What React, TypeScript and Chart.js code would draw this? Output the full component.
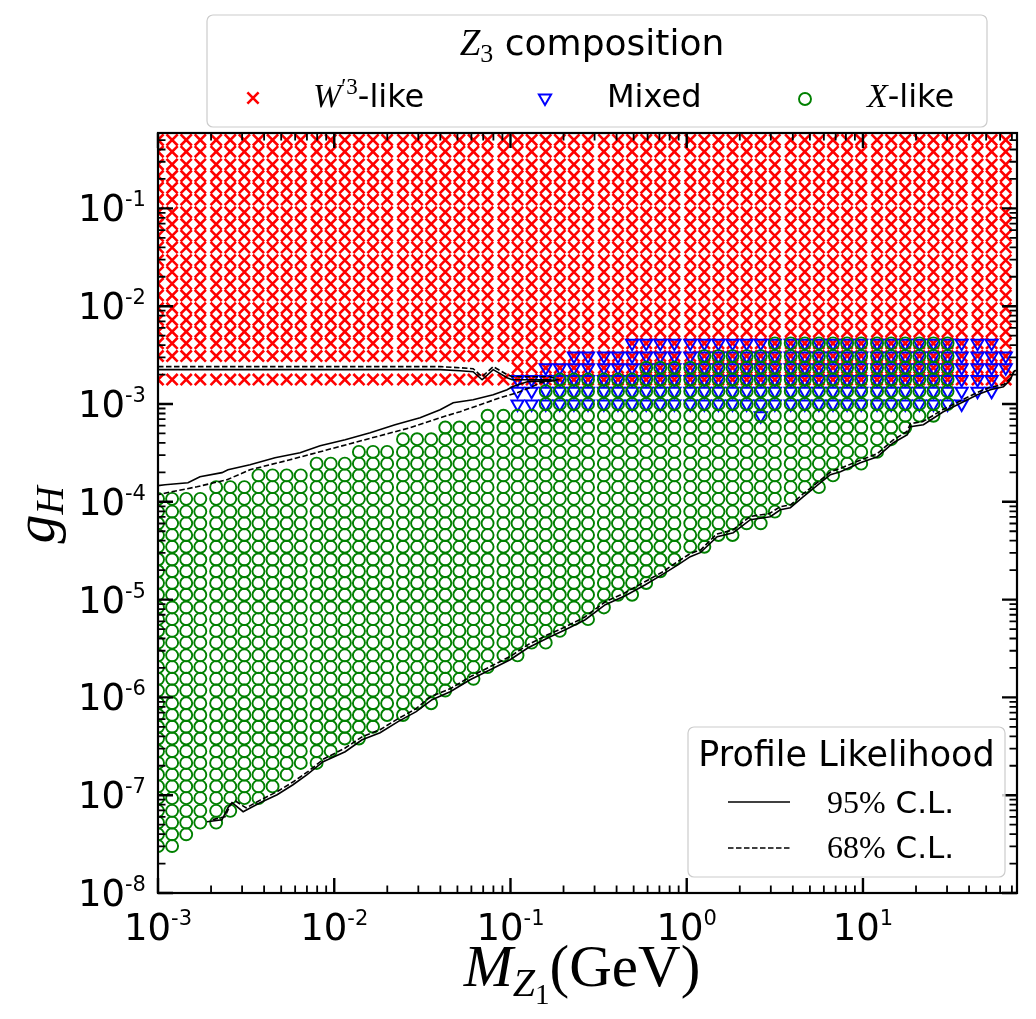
import React, { useEffect, useRef } from "react";
import { Chart, registerables } from "chart.js";

Chart.register(...registerables);

// log10 of the scanned dark-photon mass M_Z1 (GeV), one entry per grid column
const massExp = [
  -3.0, -2.92, -2.84, -2.76, -2.67, -2.59, -2.51, -2.43, -2.35, -2.27,
  -2.19, -2.1, -2.02, -1.94, -1.86, -1.78, -1.7, -1.61, -1.53, -1.45,
  -1.37, -1.29, -1.21, -1.13, -1.04, -0.96, -0.88, -0.8, -0.72, -0.64,
  -0.56, -0.47, -0.39, -0.31, -0.23, -0.15, -0.07, 0.02, 0.1, 0.18,
  0.26, 0.34, 0.42, 0.5, 0.59, 0.67, 0.75, 0.83, 0.91, 0.99,
  1.08, 1.16, 1.24, 1.32, 1.4, 1.48, 1.56, 1.65, 1.73, 1.81,
];

// log10 of the scanned coupling g_H, one entry per grid row
const couplingExp = [
  -7.52, -7.4, -7.28, -7.16, -7.03, -6.91, -6.79, -6.67, -6.55, -6.42,
  -6.3, -6.18, -6.06, -5.93, -5.81, -5.69, -5.57, -5.44, -5.32, -5.2,
  -5.08, -4.95, -4.83, -4.71, -4.59, -4.46, -4.34, -4.22, -4.1, -3.97,
  -3.85, -3.73, -3.61, -3.49, -3.36, -3.24, -3.12, -3.0, -2.87, -2.75,
  -2.63, -2.51, -2.38, -2.26, -2.14, -2.02, -1.89, -1.77, -1.65, -1.53,
  -1.4, -1.28, -1.16, -1.04, -0.91, -0.79, -0.67, -0.55, -0.42, -0.3,
];

// Per mass column: first / last row index of each Z3 composition (-1 = none)
const wLikeFrom = [
  39, 39, 39, 39, 39, 39, 39, 39, 39, 39,
  39, 39, 39, 39, 39, 39, 39, 39, 39, 39,
  39, 39, 39, 39, 39, 39, 39, 39, 39, 39,
  39, 39, 39, 39, 39, 39, 39, 39, 39, 39,
  39, 39, 39, 39, 39, 39, 39, 39, 39, 39,
  39, 39, 39, 39, 39, 39, 39, 39, 39, 39,
];
const wLikeTo = [
  59, 59, 59, 59, 59, 59, 59, 59, 59, 59,
  59, 59, 59, 59, 59, 59, 59, 59, 59, 59,
  59, 59, 59, 59, 59, 59, 59, 59, 59, 59,
  59, 59, 59, 59, 59, 59, 59, 59, 59, 59,
  59, 59, 59, 59, 59, 59, 59, 59, 59, 59,
  59, 59, 59, 59, 59, 59, 59, 59, 59, 59,
];
// row with no W'3-like point in that column (-1 = none missing)
const wLikeMissing = [
  40, 40, 40, 40, 40, 40, 40, 40, 40, 40,
  40, 40, 40, 40, 40, 40, 40, 40, 40, 40,
  40, 40, 40, 40, 40, -1, -1, -1, -1, -1,
  -1, -1, -1, -1, -1, -1, -1, -1, -1, -1,
  -1, -1, -1, -1, -1, -1, -1, -1, -1, -1,
  -1, -1, -1, -1, -1, -1, -1, -1, -1, -1,
];
const mixedFrom = [
  -1, -1, -1, -1, -1, -1, -1, -1, -1, -1,
  -1, -1, -1, -1, -1, -1, -1, -1, -1, -1,
  -1, -1, -1, -1, -1, 37, 37, 37, 37, 37,
  37, 37, 37, 37, 37, 37, 37, 37, 37, 37,
  37, 37, 36, 37, 37, 37, 37, 37, 37, 37,
  37, 37, 37, 37, 37, 37, 37, 38, 38, 40,
];
const mixedTo = [
  -1, -1, -1, -1, -1, -1, -1, -1, -1, -1,
  -1, -1, -1, -1, -1, -1, -1, -1, -1, -1,
  -1, -1, -1, -1, -1, 39, 39, 40, 40, 41,
  41, 41, 41, 42, 42, 42, 42, 42, 42, 42,
  42, 42, 42, 42, 42, 42, 42, 42, 42, 42,
  42, 42, 42, 42, 42, 42, 42, 42, 42, 41,
];
const xLikeFrom = [
  0, 0, 1, 2, 2, 3, 4, 4, 5, 6,
  7, 7, 8, 9, 9, 10, 11, 11, 12, 12,
  13, 14, 14, 15, 16, 16, 17, 17, 18, 19,
  19, 20, 21, 21, 22, 23, 24, 25, 25, 26,
  26, 27, 27, 28, 29, 30, 30, 31, 32, 32,
  33, 34, 35, 36, 36, 37, -1, -1, -1, -1,
];
const xLikeTo = [
  29, 29, 29, 29, 30, 30, 30, 31, 31, 31,
  31, 32, 32, 32, 33, 33, 33, 34, 34, 34,
  35, 35, 35, 36, 36, 36, 36, 38, 39, 39,
  39, 39, 39, 39, 40, 40, 40, 40, 41, 41,
  41, 41, 41, 42, 42, 42, 42, 42, 42, 42,
  42, 42, 42, 42, 42, 42, -1, -1, -1, -1,
];

// Profile-likelihood contours, [log10 M, log10 g_H]
const cl95Upper = [
  [-3.0, -2.649], [-1.399, -2.649], [-1.286, -2.66], [-1.212, -2.67], [-1.161, -2.752],
  [-1.098, -2.649], [-1.019, -2.731], [-0.99, -2.752], [-0.775, -2.752], [-0.741, -2.762],
  [-0.905, -2.772], [-0.99, -2.823], [-1.019, -2.854], [-1.098, -2.905], [-1.212, -2.956],
  [-1.325, -2.987], [-1.399, -3.058], [-1.513, -3.14], [-1.655, -3.212], [-1.796, -3.293],
  [-1.938, -3.365], [-2.08, -3.426], [-2.194, -3.498], [-2.336, -3.549], [-2.478, -3.621],
  [-2.603, -3.672], [-2.637, -3.702], [-2.762, -3.743], [-2.83, -3.805], [-2.96, -3.825],
  [-3.0, -3.835],
];
const cl68Upper = [
  [-3.0, -2.618], [-1.399, -2.618], [-1.286, -2.629], [-1.212, -2.639], [-1.161, -2.721],
  [-1.098, -2.618], [-1.019, -2.7], [-0.99, -2.721], [-0.775, -2.721], [-0.73, -2.752],
  [-0.831, -2.782], [-0.888, -2.833], [-0.962, -2.884], [-1.059, -2.936], [-1.172, -3.007],
  [-1.286, -3.079], [-1.399, -3.14], [-1.569, -3.242], [-1.74, -3.324], [-1.91, -3.406],
  [-2.08, -3.488], [-2.251, -3.57], [-2.478, -3.672], [-2.608, -3.774], [-2.779, -3.846],
  [-2.949, -3.907], [-3.0, -3.927],
];
const cl95Lower = [
  [-2.722, -7.271], [-2.637, -7.251], [-2.603, -7.128], [-2.58, -7.077], [-2.517, -7.169],
  [-2.421, -7.077], [-2.324, -6.995], [-2.234, -6.893], [-2.154, -6.79], [-2.063, -6.657],
  [-1.938, -6.555], [-1.842, -6.433], [-1.74, -6.361], [-1.638, -6.248], [-1.535, -6.146],
  [-1.445, -6.023], [-1.342, -5.942], [-1.229, -5.819], [-1.115, -5.717], [-1.002, -5.615],
  [-0.9, -5.492], [-0.786, -5.39], [-0.689, -5.308], [-0.576, -5.206], [-0.462, -5.052],
  [-0.349, -4.96], [-0.235, -4.848], [-0.139, -4.745], [-0.048, -4.643], [0.02, -4.561],
  [0.077, -4.52], [0.173, -4.357], [0.264, -4.316], [0.361, -4.183], [0.474, -4.152],
  [0.531, -4.081], [0.588, -4.06], [0.662, -3.948], [0.815, -3.723], [0.872, -3.692],
  [0.985, -3.6], [1.082, -3.539], [1.173, -3.396], [1.252, -3.314], [1.269, -3.232],
  [1.343, -3.212], [1.456, -3.079], [1.536, -3.007], [1.649, -2.905], [1.723, -2.854],
  [1.797, -2.823], [1.837, -2.752], [1.854, -2.67], [1.877, -2.649],
];
const cl68Lower = [
  [-2.69, -7.25], [-2.62, -7.22], [-2.59, -7.1], [-2.56, -7.06], [-2.5, -7.13],
  [-2.42, -7.05], [-2.32, -6.96], [-2.23, -6.86], [-2.15, -6.76], [-2.06, -6.63],
  [-1.94, -6.52], [-1.84, -6.4], [-1.74, -6.33], [-1.64, -6.22], [-1.54, -6.12],
  [-1.45, -5.99], [-1.34, -5.91], [-1.23, -5.79], [-1.12, -5.69], [-1.0, -5.58],
  [-0.9, -5.46], [-0.79, -5.36], [-0.69, -5.28], [-0.58, -5.18], [-0.46, -5.02],
  [-0.35, -4.93], [-0.24, -4.82], [-0.14, -4.72], [-0.05, -4.61], [0.02, -4.53],
  [0.08, -4.49], [0.17, -4.33], [0.26, -4.29], [0.36, -4.15], [0.47, -4.12],
  [0.53, -4.05], [0.59, -4.03], [0.66, -3.92], [0.82, -3.69], [0.87, -3.66],
  [0.99, -3.57], [1.08, -3.51], [1.17, -3.37], [1.25, -3.28], [1.27, -3.2],
  [1.34, -3.18], [1.46, -3.05], [1.54, -2.98], [1.65, -2.88], [1.72, -2.83],
  [1.8, -2.8], [1.84, -2.73], [1.86, -2.66], [1.88, -2.64],
];

// axis ranges (log10) and decade tick exponents
const massRange = [-3, 1.874];
const couplingRange = [-8, -0.229];
const massTickExps = [-3, -2, -1, 0, 1];
const couplingTickExps = [-8, -7, -6, -5, -4, -3, -2, -1];

const RED = "#ff0000";
const BLUE = "#0000ff";
const GREEN = "#008000";
const SANS = '"DejaVu Sans", sans-serif';
const SERIF = '"Liberation Serif", "DejaVu Serif", serif';

type Run = [string, string, number];

function runsWidth(ctx: CanvasRenderingContext2D, runs: Run[]) {
  let w = 0;
  for (const [t, f] of runs) {
    ctx.font = f;
    w += ctx.measureText(t).width;
  }
  return w;
}

function drawRuns(ctx: CanvasRenderingContext2D, runs: Run[], x: number, y: number) {
  let cx = x;
  for (const [t, f, dy] of runs) {
    ctx.font = f;
    ctx.fillText(t, cx, y + dy);
    cx += ctx.measureText(t).width;
  }
}

function gridPoints(from: number[], to: number[], missing?: number[]) {
  const pts: { x: number; y: number }[] = [];
  massExp.forEach((mx, k) => {
    if (from[k] < 0) return;
    for (let j = from[k]; j <= to[k]; j++) {
      if (missing && missing[k] === j) continue;
      pts.push({ x: 10 ** mx, y: 10 ** couplingExp[j] });
    }
  });
  return pts;
}

const toXY = (arr: number[][]) => arr.map(([a, b]) => ({ x: 10 ** a, y: 10 ** b }));

function roundBox(ctx: CanvasRenderingContext2D, x: number, y: number, w: number, h: number, r: number) {
  ctx.beginPath();
  ctx.moveTo(x + r, y);
  ctx.lineTo(x + w - r, y);
  ctx.arcTo(x + w, y, x + w, y + r, r);
  ctx.lineTo(x + w, y + h - r);
  ctx.arcTo(x + w, y + h, x + w - r, y + h, r);
  ctx.lineTo(x + r, y + h);
  ctx.arcTo(x, y + h, x, y + h - r, r);
  ctx.lineTo(x, y + r);
  ctx.arcTo(x, y, x + r, y, r);
  ctx.closePath();
  ctx.fillStyle = "rgba(255,255,255,0.8)";
  ctx.fill();
  ctx.strokeStyle = "#cccccc";
  ctx.lineWidth = 1.2;
  ctx.stroke();
}

const decorations = {
  id: "decorations",
  afterDraw(chart: any) {
    const { ctx, chartArea: a } = chart;
    const xs = chart.scales.x;
    const ys = chart.scales.y;
    ctx.save();
    ctx.strokeStyle = "#000";
    ctx.fillStyle = "#000";

    // inward ticks on all four sides
    const drawX = (v: number, len: number, w: number) => {
      const p = xs.getPixelForValue(v);
      if (p < a.left - 0.5 || p > a.right + 0.5) return;
      ctx.lineWidth = w;
      ctx.beginPath();
      ctx.moveTo(p, a.bottom);
      ctx.lineTo(p, a.bottom - len);
      ctx.moveTo(p, a.top);
      ctx.lineTo(p, a.top + len);
      ctx.stroke();
    };
    const drawY = (v: number, len: number, w: number) => {
      const p = ys.getPixelForValue(v);
      if (p < a.top - 0.5 || p > a.bottom + 0.5) return;
      ctx.lineWidth = w;
      ctx.beginPath();
      ctx.moveTo(a.left, p);
      ctx.lineTo(a.left + len, p);
      ctx.moveTo(a.right, p);
      ctx.lineTo(a.right - len, p);
      ctx.stroke();
    };
    for (let e = Math.floor(massRange[0]); e <= Math.ceil(massRange[1]); e++) {
      drawX(10 ** e, 15, 2.4);
      for (let m = 2; m <= 9; m++) drawX(m * 10 ** e, 7.5, 1.8);
    }
    for (let e = Math.floor(couplingRange[0]); e <= Math.ceil(couplingRange[1]); e++) {
      drawY(10 ** e, 15, 2.4);
      for (let m = 2; m <= 9; m++) drawY(m * 10 ** e, 7.5, 1.8);
    }

    // frame
    ctx.lineWidth = 2.2;
    ctx.strokeRect(a.left, a.top, a.right - a.left, a.bottom - a.top);

    // tick labels
    const big = `37px ${SANS}`;
    const small = `21px ${SANS}`;
    ctx.textAlign = "left";
    ctx.textBaseline = "alphabetic";
    for (const e of massTickExps) {
      const p = xs.getPixelForValue(10 ** e);
      const runs: Run[] = [["10", big, 0], [String(e), small, -15]];
      drawRuns(ctx, runs, p - runsWidth(ctx, runs) / 2, 932);
    }
    for (const e of couplingTickExps) {
      const p = ys.getPixelForValue(10 ** e);
      ctx.font = big;
      const w10 = ctx.measureText("10").width;
      drawRuns(ctx, [["10", big, 0], [String(e), small, -15]], 117 - w10, p + 13);
    }

    // axis titles
    const xTitle: Run[] = [
      ["M", `italic 59px ${SERIF}`, 0],
      ["Z", `italic 40px ${SERIF}`, 10],
      ["1", `29px ${SERIF}`, 18],
      ["(GeV)", `59px ${SERIF}`, 0],
    ];
    drawRuns(ctx, xTitle, 574 - runsWidth(ctx, xTitle) / 2, 978);

    const yTitle: Run[] = [
      ["g", `italic 58px ${SERIF}`, 0],
      ["H", `italic 39px ${SERIF}`, 9],
    ];
    ctx.save();
    ctx.translate(46, 507);
    ctx.rotate(-Math.PI / 2);
    drawRuns(ctx, yTitle, -runsWidth(ctx, yTitle) / 2, 0);
    ctx.restore();

    // composition legend
    roundBox(ctx, 199, 7, 780, 112, 6);
    ctx.fillStyle = "#000";
    const compTitle: Run[] = [
      ["Z", `italic 37px ${SERIF}`, 0],
      ["3", `26px ${SERIF}`, 7],
      [" composition", `36px ${SANS}`, 0],
    ];
    drawRuns(ctx, compTitle, 584 - runsWidth(ctx, compTitle) / 2, 47);

    // W'3-like marker
    ctx.strokeStyle = RED;
    ctx.lineWidth = 2.6;
    ctx.beginPath();
    ctx.moveTo(245 - 5.6, 90 - 5.6);
    ctx.lineTo(245 + 5.6, 90 + 5.6);
    ctx.moveTo(245 + 5.6, 90 - 5.6);
    ctx.lineTo(245 - 5.6, 90 + 5.6);
    ctx.stroke();
    // Mixed marker
    ctx.strokeStyle = BLUE;
    ctx.lineWidth = 2;
    ctx.beginPath();
    ctx.moveTo(537, 90 + 7);
    ctx.lineTo(537 - 6.1, 90 - 3.5);
    ctx.lineTo(537 + 6.1, 90 - 3.5);
    ctx.closePath();
    ctx.stroke();
    // X-like marker
    ctx.strokeStyle = GREEN;
    ctx.lineWidth = 1.9;
    ctx.beginPath();
    ctx.arc(797, 91, 6, 0, Math.PI * 2);
    ctx.stroke();

    ctx.fillStyle = "#000";
    drawRuns(ctx, [
      ["W", `italic 34px ${SERIF}`, 0],
      ["\u20323", `23px ${SERIF}`, -13],
      ["-like", `32px ${SANS}`, 0],
    ], 305, 99);
    drawRuns(ctx, [["Mixed", `32px ${SANS}`, 0]], 599, 99);
    drawRuns(ctx, [
      ["X", `italic 34px ${SERIF}`, 0],
      ["-like", `32px ${SANS}`, 0],
    ], 859, 99);

    // profile likelihood legend
    roundBox(ctx, 680, 719, 317, 150, 6);
    ctx.fillStyle = "#000";
    const plTitle: Run[] = [["Profile Likelihood", `35px ${SANS}`, 0]];
    drawRuns(ctx, plTitle, 838.5 - runsWidth(ctx, plTitle) / 2, 758);
    ctx.strokeStyle = "#000";
    ctx.lineWidth = 1.6;
    ctx.beginPath();
    ctx.moveTo(720, 794);
    ctx.lineTo(782, 794);
    ctx.stroke();
    ctx.setLineDash([5.5, 2.5]);
    ctx.beginPath();
    ctx.moveTo(720, 840);
    ctx.lineTo(782, 840);
    ctx.stroke();
    ctx.setLineDash([]);
    drawRuns(ctx, [["95%", `32px ${SERIF}`, 0], [" C.L.", `31px ${SANS}`, 0]], 819, 805);
    drawRuns(ctx, [["68%", `32px ${SERIF}`, 0], [" C.L.", `31px ${SANS}`, 0]], 819, 850);

    ctx.restore();
  },
};

export default function App() {
  const ref = useRef<HTMLCanvasElement | null>(null);

  useEffect(() => {
    if (!ref.current) return;
    const marker = (style: string, color: string, radius: number, width: number, order: number, extra: any = {}) => ({
      showLine: false,
      pointStyle: style,
      pointRadius: radius,
      pointHoverRadius: radius,
      pointBorderColor: color,
      borderColor: color,
      pointBackgroundColor: "rgba(0,0,0,0)",
      backgroundColor: "rgba(0,0,0,0)",
      pointBorderWidth: width,
      borderWidth: width,
      order,
      clip: 0,
      ...extra,
    });
    const contour = (label: string, data: number[][], dash: number[]) => ({
      label,
      data: toXY(data),
      showLine: true,
      pointRadius: 0,
      borderColor: "#000",
      borderWidth: 1.6,
      borderDash: dash,
      tension: 0,
      fill: false,
      order: 0,
      clip: 0,
    });

    const chart = new Chart(ref.current, {
      type: "scatter",
      data: {
        datasets: [
          { label: "W'3-like", data: gridPoints(wLikeFrom, wLikeTo, wLikeMissing), ...marker("crossRot", RED, 7.9, 2.6, 3) },
          { label: "Mixed", data: gridPoints(mixedFrom, mixedTo), ...marker("triangle", BLUE, 7, 2, 2, { pointRotation: 180, rotation: 180 }) },
          { label: "X-like", data: gridPoints(xLikeFrom, xLikeTo), ...marker("circle", GREEN, 6, 1.9, 1) },
          contour("95% C.L. upper", cl95Upper, []),
          contour("68% C.L. upper", cl68Upper, [5.5, 2.5]),
          contour("95% C.L. lower", cl95Lower, []),
          contour("68% C.L. lower", cl68Lower, [5.5, 2.5]),
        ] as any,
      },
      options: {
        animation: false,
        responsive: false,
        devicePixelRatio: 1,
        events: [],
        layout: { padding: { left: 150, top: 125, right: 11, bottom: 118 } },
        scales: {
          x: { type: "logarithmic", min: 10 ** massRange[0], max: 10 ** massRange[1], display: false },
          y: { type: "logarithmic", min: 10 ** couplingRange[0], max: 10 ** couplingRange[1], display: false },
        },
        plugins: { legend: { display: false }, tooltip: { enabled: false } },
      } as any,
      plugins: [decorations],
    });
    return () => chart.destroy();
  }, []);

  return <canvas ref={ref} width={1020} height={1003} style={{ display: "block" }} />;
}
